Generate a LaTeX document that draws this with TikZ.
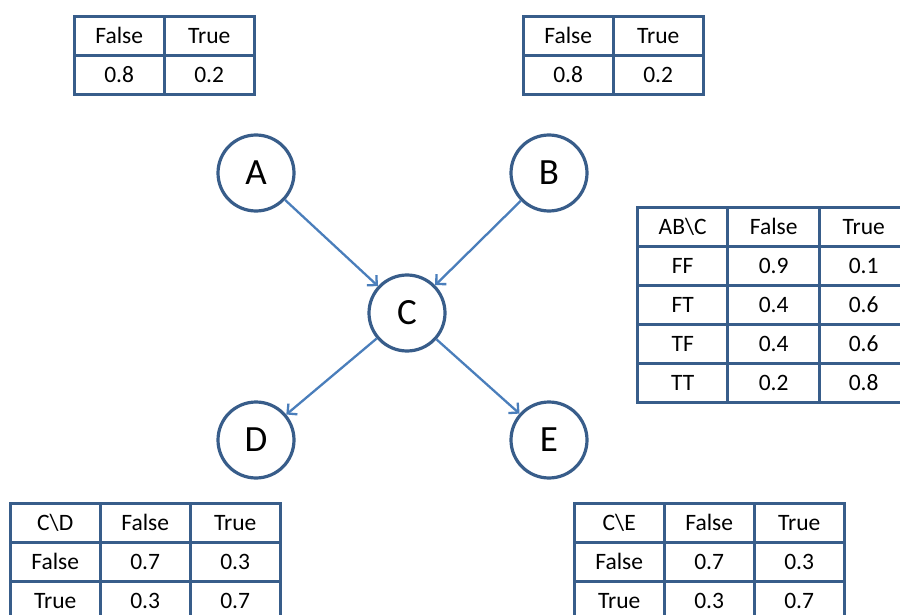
\documentclass[tikz,border=0pt]{standalone}
\usepackage{fontspec}
\setmainfont{Carlito}
\usetikzlibrary{matrix,arrows.meta}
\definecolor{nodeblue}{HTML}{385D8A}
\definecolor{edgeblue}{HTML}{4A7EBB}
\tikzset{
  var/.style={circle, draw=nodeblue, line width=3.2pt, fill=white,
    minimum size=76pt, inner sep=0pt, font=\fontsize{37}{40}\selectfont},
  edge/.style={draw=edgeblue, line width=2.3pt,
    -{Straight Barb[length=7pt,width=14pt,line width=2.3pt]}},
  cpt/.style={matrix of nodes, anchor=north west, inner sep=0pt,
    column sep=-3pt, row sep=-3pt,
    nodes={draw=nodeblue, line width=3pt, minimum width=90pt,
      minimum height=39pt, inner sep=0pt, anchor=center,
      font=\fontsize{23.5}{26}\selectfont}},
}
\begin{document}
\begin{tikzpicture}[x=1pt,y=-1pt]
\useasboundingbox (0,0) rectangle (900,615);

% variables of the network
\node[var] (A) at (256,173) {A};
\node[var] (B) at (549,173) {B};
\node[var] (C) at (407,313) {C};
\node[var] (D) at (256,440) {D};
\node[var] (E) at (549,440) {E};

\draw[edge] (A) -- (C);
\draw[edge] (B) -- (C);
\draw[edge] (C) -- (D);
\draw[edge] (C) -- (E);

% prior of A
\matrix (pa) [cpt] at (72.5,14.5) {
  False & True \\
  0.8 & 0.2 \\
};
% prior of B
\matrix (pb) [cpt] at (521.5,14.5) {
  False & True \\
  0.8 & 0.2 \\
};
% conditional table of C given A and B (runs past the right edge)
\matrix (pc) [cpt, column 2/.style={nodes={minimum width=92pt}},
  column 3/.style={nodes={minimum width=88pt}}] at (636,205.5) {
  AB\textbackslash C & False & True \\
  FF & 0.9 & 0.1 \\
  FT & 0.4 & 0.6 \\
  TF & 0.4 & 0.6 \\
  TT & 0.2 & 0.8 \\
};
% conditional table of D given C
\matrix (pd) [cpt] at (8.5,501.5) {
  C\textbackslash D & False & True \\
  False & 0.7 & 0.3 \\
  True & 0.3 & 0.7 \\
};
% conditional table of E given C
\matrix (pe) [cpt] at (572.5,501.5) {
  C\textbackslash E & False & True \\
  False & 0.7 & 0.3 \\
  True & 0.3 & 0.7 \\
};
\end{tikzpicture}
\end{document}
